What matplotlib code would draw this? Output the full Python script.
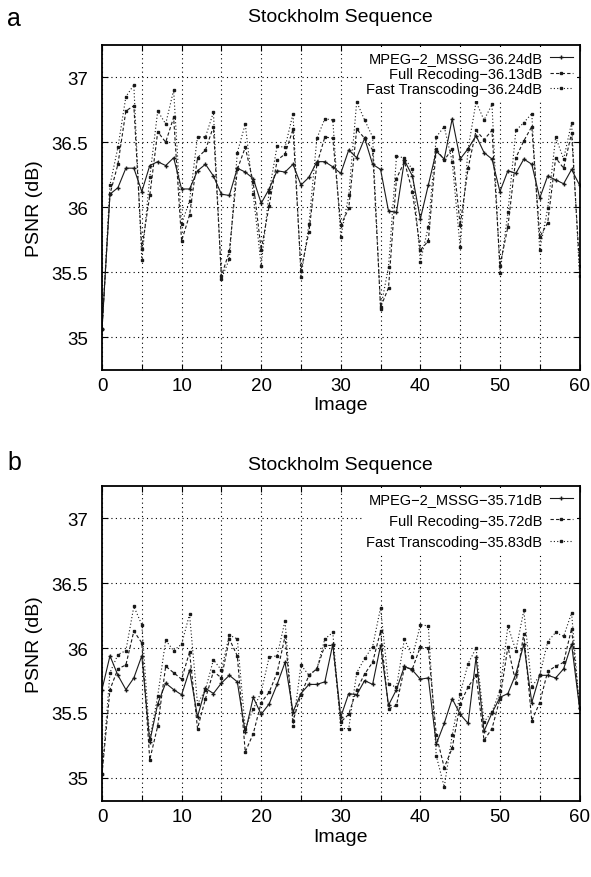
import matplotlib.pyplot as plt
import numpy as np

plt.rcParams["font.family"] = ["Liberation Sans", "DejaVu Sans"]

images = np.arange(61)

# panel a
mssg_a = [35.06, 36.10, 36.15, 36.30, 36.30, 36.12, 36.32, 36.35, 36.32, 36.38,
          36.14, 36.14, 36.28, 36.33, 36.24, 36.10, 36.09, 36.30, 36.27, 36.22,
          36.03, 36.14, 36.28, 36.27, 36.33, 36.17, 36.23, 36.35, 36.35, 36.31,
          36.26, 36.44, 36.38, 36.53, 36.33, 36.29, 35.97, 35.96, 36.36, 36.24,
          35.91, 36.17, 36.43, 36.37, 36.68, 36.37, 36.45, 36.55, 36.42, 36.37,
          36.12, 36.28, 36.26, 36.37, 36.33, 36.07, 36.24, 36.21, 36.18, 36.29,
          36.17]
full_a = [35.06, 36.10, 36.33, 36.74, 36.78, 35.68, 36.09, 36.58, 36.50, 36.69,
          35.74, 35.94, 36.38, 36.44, 36.62, 35.47, 35.66, 36.29, 36.46, 36.19,
          35.67, 36.01, 36.36, 36.41, 36.60, 35.51, 35.81, 36.33, 36.54, 36.53,
          35.86, 35.99, 36.60, 36.53, 36.44, 35.23, 35.38, 36.22, 36.35, 36.12,
          35.67, 35.74, 36.45, 36.36, 36.45, 35.86, 36.30, 36.59, 36.52, 36.59,
          35.55, 35.85, 36.38, 36.51, 36.62, 35.77, 35.88, 36.38, 36.30, 36.57,
          35.55]
fast_a = [35.06, 36.17, 36.46, 36.85, 36.94, 35.59, 36.23, 36.74, 36.64, 36.90,
          35.87, 36.05, 36.54, 36.54, 36.73, 35.45, 35.60, 36.42, 36.64, 36.10,
          35.55, 36.12, 36.47, 36.46, 36.72, 35.46, 35.87, 36.53, 36.68, 36.67,
          35.77, 36.09, 36.81, 36.67, 36.54, 35.22, 35.54, 36.39, 36.38, 36.29,
          35.58, 35.85, 36.54, 36.62, 36.35, 35.69, 36.45, 36.81, 36.67, 36.79,
          35.49, 35.96, 36.59, 36.65, 36.72, 35.67, 35.99, 36.54, 36.37, 36.65,
          35.47]

# panel b
mssg_b = [35.68, 35.94, 35.79, 35.68, 35.77, 35.94, 35.28, 35.57, 35.73, 35.68,
          35.64, 35.83, 35.47, 35.69, 35.65, 35.73, 35.79, 35.74, 35.35, 35.62,
          35.49, 35.57, 35.72, 35.89, 35.51, 35.65, 35.72, 35.72, 35.74, 36.03,
          35.47, 35.65, 35.64, 35.75, 35.72, 36.02, 35.56, 35.68, 35.86, 35.83,
          35.76, 35.77, 35.26, 35.42, 35.61, 35.49, 35.42, 35.93, 35.36, 35.50,
          35.62, 35.65, 35.80, 36.03, 35.58, 35.79, 35.79, 35.77, 35.84, 36.03,
          35.54]
full_b = [35.03, 35.68, 35.84, 35.87, 36.13, 36.04, 35.14, 35.40, 35.86, 35.81,
          35.76, 35.97, 35.38, 35.61, 35.82, 35.77, 36.07, 35.94, 35.20, 35.34,
          35.58, 35.66, 35.81, 36.09, 35.44, 35.64, 35.79, 35.84, 36.02, 36.02,
          35.43, 35.49, 35.68, 35.80, 35.89, 36.13, 35.53, 35.56, 35.85, 35.84,
          36.01, 36.00, 35.33, 35.08, 35.23, 35.57, 35.70, 35.79, 35.29, 35.38,
          35.61, 36.01, 35.73, 36.11, 35.44, 35.58, 35.82, 35.86, 35.89, 36.15,
          35.54]
fast_b = [35.03, 35.81, 35.95, 35.98, 36.32, 36.18, 35.30, 35.63, 36.06, 35.98,
          36.03, 36.26, 35.57, 35.68, 35.91, 35.83, 36.10, 36.07, 35.38, 35.53,
          35.66, 35.93, 35.94, 36.21, 35.40, 35.87, 35.79, 35.84, 36.07, 36.12,
          35.38, 35.38, 35.81, 35.92, 36.01, 36.31, 35.72, 35.70, 36.07, 35.93,
          36.18, 36.17, 35.17, 34.93, 35.33, 35.65, 35.88, 36.00, 35.43, 35.51,
          35.67, 36.17, 35.98, 36.29, 35.70, 35.79, 36.05, 36.12, 36.09, 36.27,
          35.54]

labels_a = ["MPEG\u22122_MSSG\u221236.24dB", "Full Recoding\u221236.13dB",
            "Fast Transcoding\u221236.24dB"]
labels_b = ["MPEG\u22122_MSSG\u221235.71dB", "Full Recoding\u221235.72dB",
            "Fast Transcoding\u221235.83dB"]

yticks = [35, 35.5, 36, 36.5, 37]
ytick_labels = ["35", "35.5", "36", "36.5", "37"]


def draw_panel(ax, series, labels, ylim, title_pad, leg_spacing):
    styles = [("-", "+", 3), ((0, (3, 2)), "s", 1.5), ((0, (1, 2)), "s", 1.5)]
    for ys, lab, (ls, mk, ms) in zip(series, labels, styles):
        ax.plot(images, ys, color="#1a1a1a", linestyle=ls, linewidth=0.8,
                marker=mk, markersize=ms, label=lab)

    ax.set_xlim(0, 60)
    ax.set_ylim(*ylim)
    ax.set_xticks(np.arange(0, 61, 5))
    ax.set_xticklabels([str(v) if v % 10 == 0 else "" for v in range(0, 61, 5)])
    ax.set_yticks(yticks)
    ax.set_yticklabels(ytick_labels)
    ax.tick_params(direction="in", top=True, right=True, labelsize=13.5,
                   length=4, width=0.8)
    ax.tick_params(axis="x", pad=5)
    ax.tick_params(axis="y", pad=10)
    ax.grid(True, color="black", linestyle=(0, (1, 3)), linewidth=0.8)
    for sp in ax.spines.values():
        sp.set_linewidth(1.3)
    ax.set_xlabel("Image", fontsize=14, labelpad=2)
    ax.set_ylabel("PSNR (dB)", fontsize=14, labelpad=6)
    ax.set_title("Stockholm Sequence", fontsize=14, pad=title_pad)
    leg = ax.legend(loc="upper right", fontsize=10.5, markerfirst=False,
                    frameon=True, fancybox=False, framealpha=1,
                    handlelength=1.6, handletextpad=0.5, borderaxespad=0.15,
                    borderpad=0.3, labelspacing=leg_spacing, alignment="right")
    leg.get_frame().set_edgecolor("none")
    for t in leg.get_texts():
        t.set_ha("right")


fig = plt.figure(figsize=(5.91, 8.78), dpi=100)
ax_a = fig.add_axes([0.1726, 0.5778, 0.808, 0.3702])
ax_b = fig.add_axes([0.1726, 0.0862, 0.808, 0.3595])

draw_panel(ax_a, [mssg_a, full_a, fast_a], labels_a, (34.75, 37.25), 17, 0.1)
draw_panel(ax_b, [mssg_b, full_b, fast_b], labels_b, (34.82, 37.25), 12, 0.5)

fig.text(0.012, 0.978, "a", fontsize=18, va="center")
fig.text(0.012, 0.473, "b", fontsize=18, va="center")

fig.savefig("out.png", dpi=100)
